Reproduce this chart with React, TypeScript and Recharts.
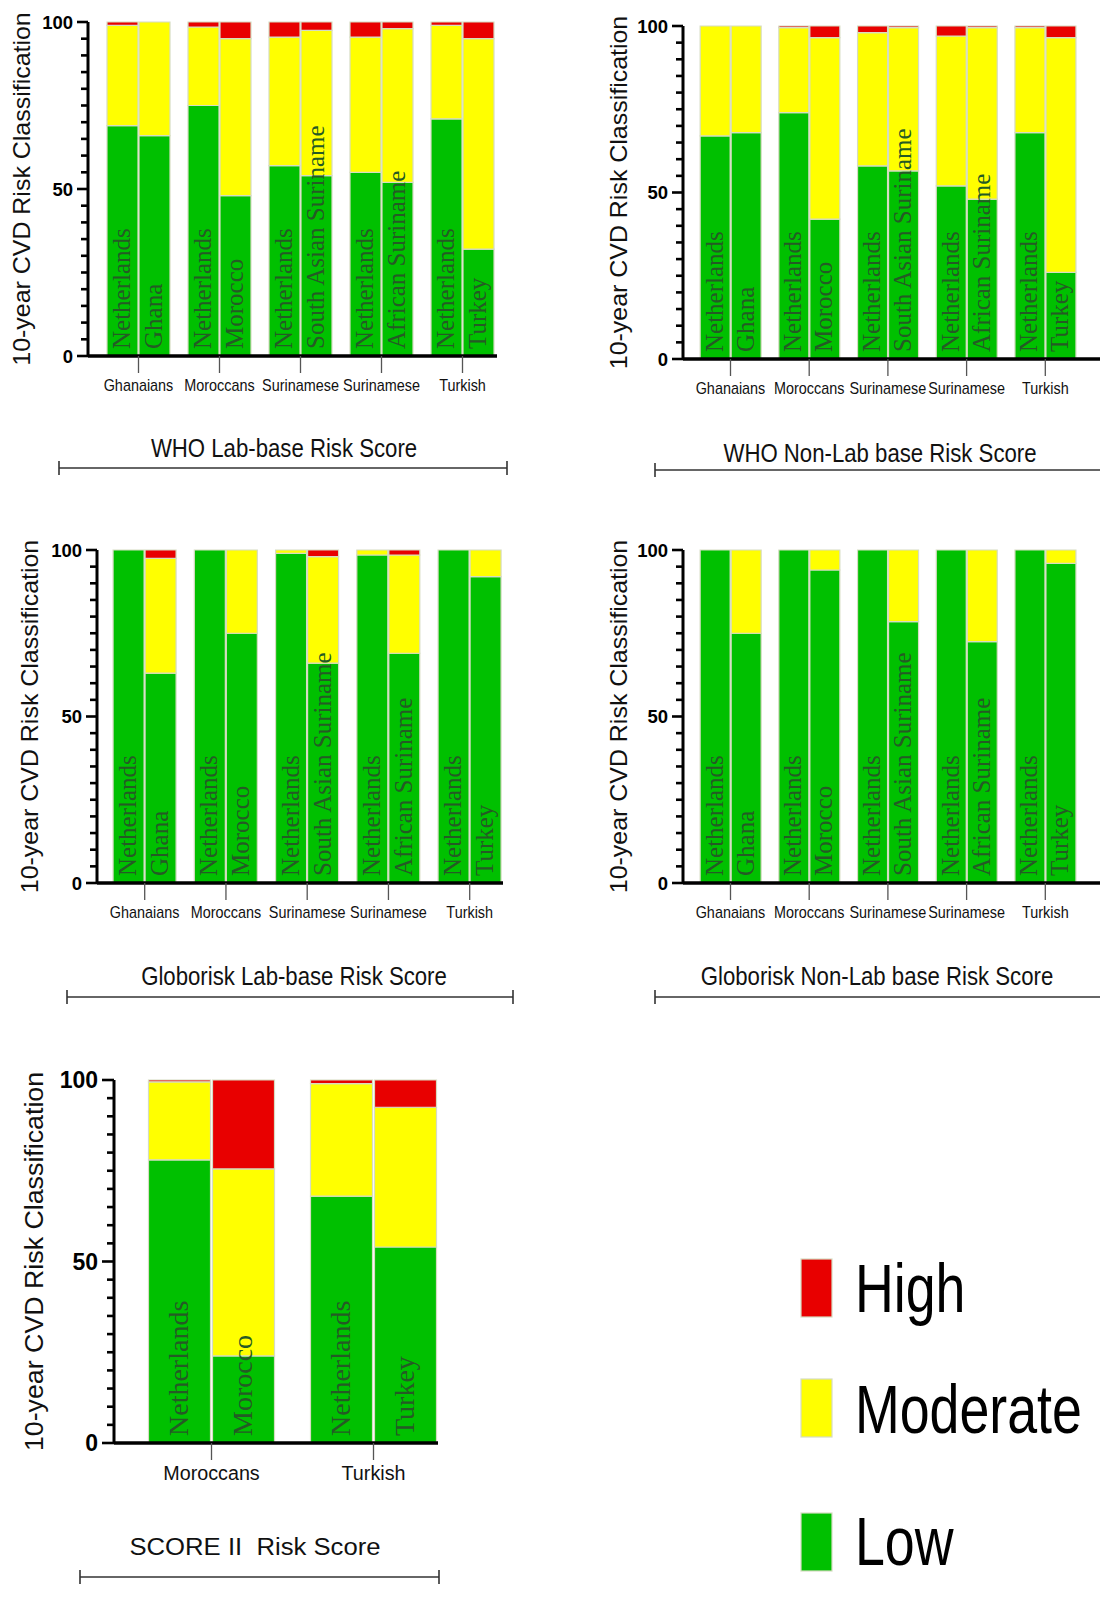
import { BarChart, Bar, XAxis, YAxis, LabelList } from 'recharts';

// categories
const groupsFive = ['Ghanaians', 'Moroccans', 'Surinamese', 'Surinamese', 'Turkish'];
const originsFive = ['Ghana', 'Morocco', 'South Asian Suriname', 'African Suriname', 'Turkey'];
const groupsScore = ['Moroccans', 'Turkish'];
const originsScore = ['Morocco', 'Turkey'];
const yTicks = [0, 5, 10, 15, 20, 25, 30, 35, 40, 45, 50, 55, 60, 65, 70, 75, 80, 85, 90, 95, 100];
const legendItems = ['High', 'Moderate', 'Low'];

// WHO lab-based (% low / moderate / high)
const whoLabNlLow = [69, 75, 57, 55, 71];
const whoLabNlMod = [30, 23.5, 38.5, 40.5, 28];
const whoLabNlHigh = [1, 1.5, 4.5, 4.5, 1];
const whoLabEthLow = [66, 48, 54, 52, 32];
const whoLabEthMod = [34, 47, 43.5, 46, 63];
const whoLabEthHigh = [0, 5, 2.5, 2, 5];

// WHO non-lab-based
const whoNonNlLow = [67, 74, 58, 52, 68];
const whoNonNlMod = [33, 25.5, 40, 45, 31.5];
const whoNonNlHigh = [0, 0.5, 2, 3, 0.5];
const whoNonEthLow = [68, 42, 56.5, 48, 26];
const whoNonEthMod = [32, 54.5, 43, 51.5, 70.5];
const whoNonEthHigh = [0, 3.5, 0.5, 0.5, 3.5];

// Globorisk lab-based
const gloLabNlLow = [100, 100, 99, 98.5, 100];
const gloLabNlMod = [0, 0, 1, 1.5, 0];
const gloLabNlHigh = [0, 0, 0, 0, 0];
const gloLabEthLow = [63, 75, 66, 69, 92];
const gloLabEthMod = [34.5, 25, 32, 29.5, 8];
const gloLabEthHigh = [2.5, 0, 2, 1.5, 0];

// Globorisk non-lab-based
const gloNonNlLow = [100, 100, 100, 100, 100];
const gloNonNlMod = [0, 0, 0, 0, 0];
const gloNonNlHigh = [0, 0, 0, 0, 0];
const gloNonEthLow = [75, 94, 78.5, 72.5, 96];
const gloNonEthMod = [25, 6, 21.5, 27.5, 4];
const gloNonEthHigh = [0, 0, 0, 0, 0];

// SCORE II
const scoreNlLow = [78, 68];
const scoreNlMod = [21.5, 31];
const scoreNlHigh = [0.5, 1];
const scoreEthLow = [24, 54];
const scoreEthMod = [51.5, 38.5];
const scoreEthHigh = [24.5, 7.5];

const GREEN = '#00c000';
const YELLOW = '#ffff00';
const RED = '#e80000';
const EDGE = '#d6dcc2';
const NAME_COLOR = '#255a25';
const SANS = "'Liberation Sans', Arial, sans-serif";
const SERIF = "'Liberation Serif', 'Times New Roman', serif";

function buildRows(groups: string[], origins: string[], vals: number[][]) {
  return groups.map((g, i) => ({
    group: g,
    origin: origins[i],
    nlLow: vals[0][i],
    nlMod: vals[1][i],
    nlHigh: vals[2][i],
    ethLow: vals[3][i],
    ethMod: vals[4][i],
    ethHigh: vals[5][i],
  }));
}

// name written up the bar; category found from the bar's x position
const nameLabel = (names: string[], baseY: number, fs: number, bandStart: number, spacing: number) => (props: any) => {
  const vb = props.viewBox || props;
  const x = Number(vb.x ?? props.x);
  const w = Number(vb.width ?? props.width);
  if (isNaN(x)) return null;
  const cx = x + w / 2;
  const idx = Math.max(0, Math.min(names.length - 1, Math.floor((cx - bandStart) / spacing)));
  const name = names.length === 1 ? names[0] : names[idx];
  return (
    <text
      key={`n-${idx}-${name}`}
      transform={`translate(${cx - 1},${baseY}) rotate(-90)`}
      fontFamily={SERIF}
      fontSize={fs}
      fill={NAME_COLOR}
      dominantBaseline="central"
    >
      {name}
    </text>
  );
};

function YTick(props: any) {
  const { x, y, payload, fs, gap, major: majorLen } = props;
  const v = payload.value;
  const major = v % 50 === 0;
  const len = major ? majorLen : 7;
  return (
    <g>
      <line x1={x - len} x2={x} y1={y} y2={y} stroke="#000" strokeWidth={2.6} />
      {major && (
        <text
          x={x - gap}
          y={y}
          textAnchor="end"
          dominantBaseline="central"
          fontFamily={SANS}
          fontWeight="bold"
          fontSize={fs}
          fill="#000"
        >
          {v}
        </text>
      )}
    </g>
  );
}

function XTick(props: any) {
  const { x, y, payload, fs, sx } = props;
  return (
    <text
      transform={`translate(${x},${y}) scale(${sx},1)`}
      textAnchor="middle"
      dy="0.71em"
      fontFamily={SANS}
      fontSize={fs}
      fill="#111"
    >
      {payload.value}
    </text>
  );
}

type PanelProps = {
  rows: any[];
  origins: string[];
  axisX: number;
  plotTop: number;
  plotBottom: number;
  firstCenter: number;
  spacing: number;
  axisEnd: number;
  barSize: number;
  barGap: number;
  nameSize: number;
  tickFont: number;
  tickScale: number;
  tickMargin: number;
  yFont: number;
  yGap: number;
  yMajor: number;
};

function Panel(p: PanelProps) {
  const yW = 100;
  const pad = 12;
  const left = p.axisX - yW;
  const top = p.plotTop - pad;
  const n = p.rows.length;
  const bandStart = p.firstCenter - p.spacing / 2;
  const bandEnd = bandStart + n * p.spacing;
  const width = p.axisEnd - left;
  const height = p.plotBottom - top + 70;
  const baseY = pad + (p.plotBottom - p.plotTop) - 7;
  const localBand = bandStart - left;
  const seg = { stroke: EDGE, strokeWidth: 1.2, isAnimationActive: false };
  return (
    <div style={{ position: 'absolute', left, top }}>
      <BarChart
        width={width}
        height={height}
        data={p.rows}
        margin={{ top: pad, right: 0, bottom: 0, left: 0 }}
        barSize={p.barSize}
        barGap={p.barGap}
        style={{ fontFamily: SANS }}
      >
        <XAxis
          dataKey="group"
          height={70}
          interval={0}
          padding={{ left: bandStart - p.axisX, right: p.axisEnd - bandEnd }}
          axisLine={{ stroke: '#000', strokeWidth: 3.5 }}
          tickLine={{ stroke: '#555', strokeWidth: 1.3 }}
          tickSize={17}
          tickMargin={p.tickMargin}
          tick={(t: any) => <XTick {...t} fs={p.tickFont} sx={p.tickScale} />}
        />
        <YAxis
          width={yW}
          domain={[0, 100]}
          ticks={yTicks}
          interval={0}
          tickSize={0}
          tickMargin={0}
          tickLine={false}
          axisLine={{ stroke: '#000', strokeWidth: 3 }}
          tick={(t: any) => <YTick {...t} fs={p.yFont} gap={p.yGap} major={p.yMajor} />}
        />
        <Bar dataKey="nlLow" stackId="nl" fill={GREEN} {...seg}>
          <LabelList content={nameLabel(['Netherlands'], baseY, p.nameSize, localBand, p.spacing)} />
        </Bar>
        <Bar dataKey="nlMod" stackId="nl" fill={YELLOW} {...seg} />
        <Bar dataKey="nlHigh" stackId="nl" fill={RED} {...seg} />
        <Bar dataKey="ethLow" stackId="eth" fill={GREEN} {...seg}>
          <LabelList content={nameLabel(p.origins, baseY, p.nameSize, localBand, p.spacing)} />
        </Bar>
        <Bar dataKey="ethMod" stackId="eth" fill={YELLOW} {...seg} />
        <Bar dataKey="ethHigh" stackId="eth" fill={RED} {...seg} />
      </BarChart>
    </div>
  );
}

const small = {
  nameSize: 25,
  tickFont: 16,
  tickScale: 0.9,
  tickMargin: 7,
  yFont: 18.5,
  yGap: 15,
  yMajor: 11,
};

function YTitle({ x, y, fs, sx }: { x: number; y: number; fs: number; sx: number }) {
  return (
    <text
      transform={`translate(${x},${y}) rotate(-90) scale(${sx},1)`}
      textAnchor="middle"
      dominantBaseline="central"
      fontFamily={SANS}
      fontSize={fs}
      fill="#111"
    >
      10-year CVD Risk Classification
    </text>
  );
}

function Title({ x, y, text, fs, sx }: { x: number; y: number; text: string; fs: number; sx: number }) {
  return (
    <text
      transform={`translate(${x},${y}) scale(${sx},1)`}
      textAnchor="middle"
      fontFamily={SANS}
      fontSize={fs}
      fill="#111"
      style={{ whiteSpace: 'pre' }}
    >
      {text}
    </text>
  );
}

function Bracket({ x1, x2, y }: { x1: number; x2: number; y: number }) {
  return (
    <g stroke="#333" strokeWidth={1.6}>
      <line x1={x1} x2={x2} y1={y} y2={y} />
      <line x1={x1} x2={x1} y1={y - 7} y2={y + 7} />
      <line x1={x2} x2={x2} y1={y - 7} y2={y + 7} />
    </g>
  );
}

export default function App() {
  const whoLab = buildRows(groupsFive, originsFive, [whoLabNlLow, whoLabNlMod, whoLabNlHigh, whoLabEthLow, whoLabEthMod, whoLabEthHigh]);
  const whoNon = buildRows(groupsFive, originsFive, [whoNonNlLow, whoNonNlMod, whoNonNlHigh, whoNonEthLow, whoNonEthMod, whoNonEthHigh]);
  const gloLab = buildRows(groupsFive, originsFive, [gloLabNlLow, gloLabNlMod, gloLabNlHigh, gloLabEthLow, gloLabEthMod, gloLabEthHigh]);
  const gloNon = buildRows(groupsFive, originsFive, [gloNonNlLow, gloNonNlMod, gloNonNlHigh, gloNonEthLow, gloNonEthMod, gloNonEthHigh]);
  const score = buildRows(groupsScore, originsScore, [scoreNlLow, scoreNlMod, scoreNlHigh, scoreEthLow, scoreEthMod, scoreEthHigh]);
  const legendColors = [RED, YELLOW, GREEN];
  const legendTops = [1259, 1379, 1513];
  const legendBase = [1312, 1433, 1565];

  return (
    <div style={{ position: 'absolute', left: 0, top: 0, width: 1100, height: 1623, background: '#fff', overflow: 'hidden' }}>
      <Panel rows={whoLab} origins={originsFive} axisX={88} plotTop={22} plotBottom={356} firstCenter={138.5} spacing={81} axisEnd={497} barSize={31} barGap={1} {...small} />
      <Panel rows={whoNon} origins={originsFive} axisX={683} plotTop={26} plotBottom={359} firstCenter={730.5} spacing={78.7} axisEnd={1100} barSize={30} barGap={1} {...small} />
      <Panel rows={gloLab} origins={originsFive} axisX={97} plotTop={550} plotBottom={883} firstCenter={144.7} spacing={81.25} axisEnd={503} barSize={31} barGap={1} {...small} />
      <Panel rows={gloNon} origins={originsFive} axisX={683} plotTop={550} plotBottom={883} firstCenter={730.5} spacing={78.7} axisEnd={1100} barSize={30} barGap={1} {...small} />
      <Panel
        rows={score}
        origins={originsScore}
        axisX={114}
        plotTop={1080}
        plotBottom={1443}
        firstCenter={211.5}
        spacing={162}
        axisEnd={438}
        barSize={62}
        barGap={2}
        nameSize={28}
        tickFont={21}
        tickScale={0.94}
        tickMargin={5}
        yFont={23}
        yGap={16}
        yMajor={12}
      />
      <svg width={1100} height={1623} style={{ position: 'absolute', left: 0, top: 0, pointerEvents: 'none' }}>
        <YTitle x={22} y={189} fs={24} sx={1.04} />
        <YTitle x={619} y={192.5} fs={24} sx={1.04} />
        <YTitle x={30} y={716.5} fs={24} sx={1.04} />
        <YTitle x={619} y={716.5} fs={24} sx={1.04} />
        <YTitle x={34} y={1261.5} fs={26} sx={1.03} />

        <Title x={284} y={457} text="WHO Lab-base Risk Score" fs={25.5} sx={0.87} />
        <Title x={880} y={462} text="WHO Non-Lab base Risk Score" fs={25.5} sx={0.87} />
        <Title x={294} y={985} text="Globorisk Lab-base Risk Score" fs={25.5} sx={0.87} />
        <Title x={877} y={985} text="Globorisk Non-Lab base Risk Score" fs={25.5} sx={0.87} />
        <Title x={255} y={1555} text="SCORE II  Risk Score" fs={24.7} sx={1.04} />

        <Bracket x1={59} x2={507} y={468} />
        <Bracket x1={655} x2={1110} y={470} />
        <Bracket x1={67} x2={513} y={997} />
        <Bracket x1={655} x2={1110} y={997} />
        <Bracket x1={80} x2={439} y={1577} />

        {legendItems.map((name, i) => (
          <g key={name}>
            <rect x={801} y={legendTops[i]} width={31} height={58} fill={legendColors[i]} stroke={EDGE} strokeWidth={1.2} />
            <text
              transform={`translate(855,${legendBase[i]}) scale(0.79,1)`}
              fontFamily={SANS}
              fontSize={68}
              fill="#000"
            >
              {name}
            </text>
          </g>
        ))}
      </svg>
    </div>
  );
}
